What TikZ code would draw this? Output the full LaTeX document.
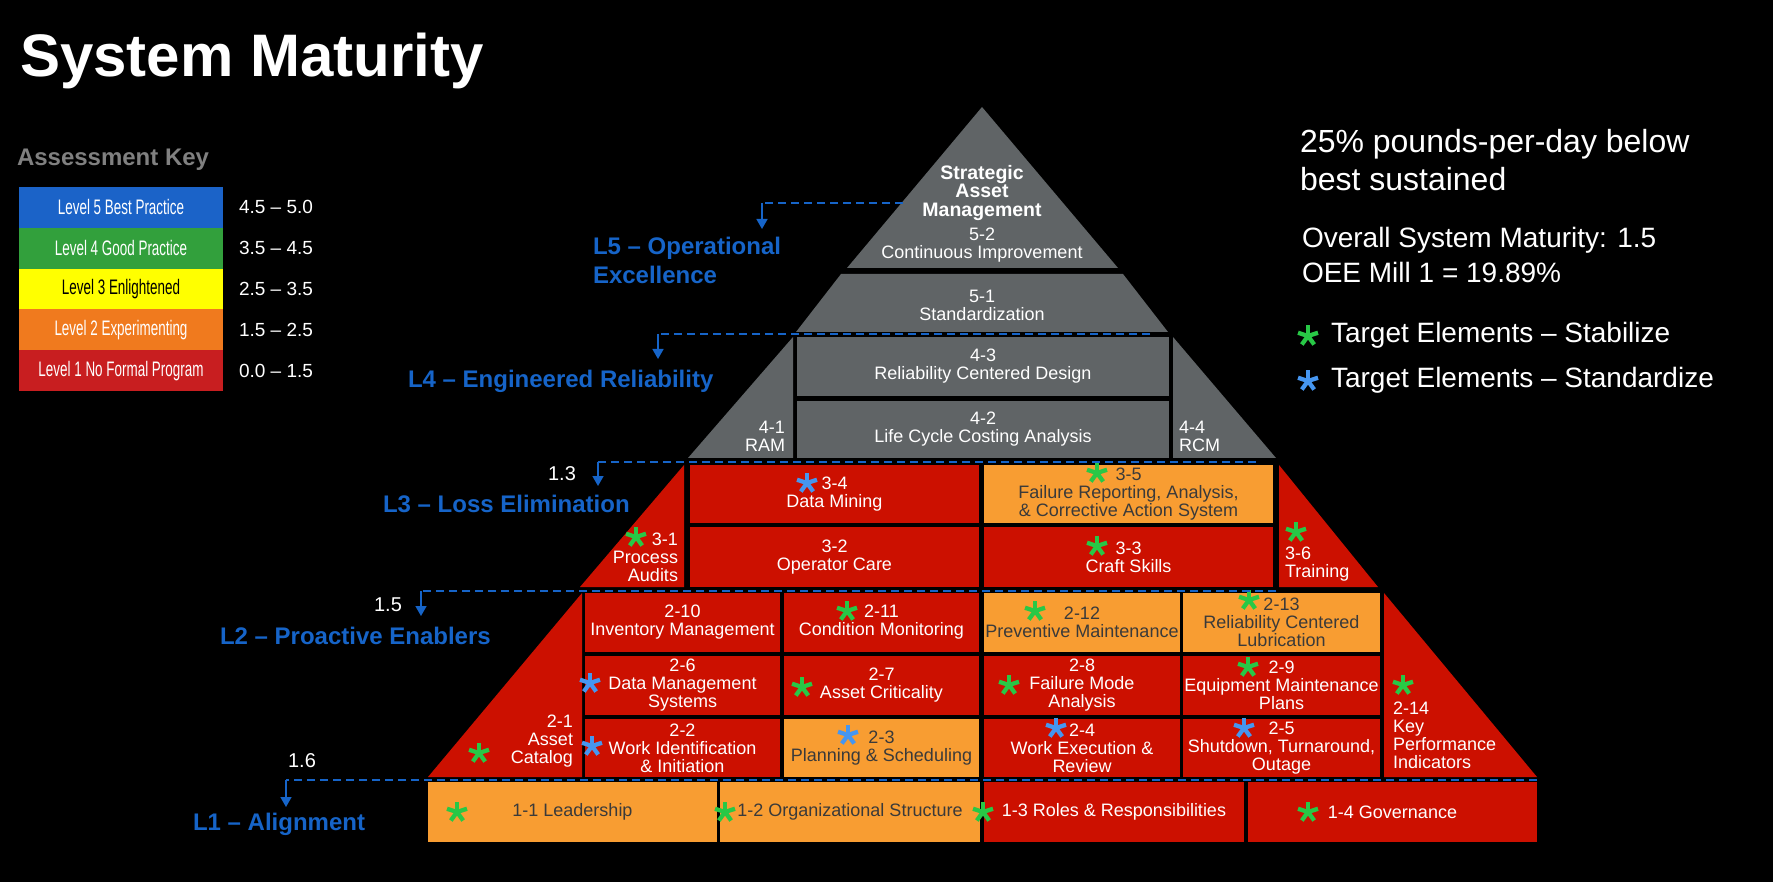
\documentclass[tikz,border=0pt]{standalone}
\usepackage{fontspec}
\setmainfont{Liberation Sans}
\newfontfamily\keyfont[FakeStretch=0.64]{Liberation Sans}
\usetikzlibrary{arrows.meta,positioning}
\definecolor{pygray}{RGB}{96,100,102}
\definecolor{pyred}{RGB}{204,16,0}
\definecolor{pyorange}{RGB}{248,157,50}
\definecolor{darktext}{RGB}{58,58,58}
\definecolor{lvblue}{RGB}{22,100,200}
\definecolor{stargreen}{RGB}{40,200,70}
\definecolor{starblue}{RGB}{70,150,240}
\definecolor{keyfive}{RGB}{27,99,200}
\definecolor{keyfour}{RGB}{50,160,60}
\definecolor{keythree}{RGB}{255,255,0}
\definecolor{keytwo}{RGB}{240,122,30}
\definecolor{keyone}{RGB}{200,30,32}
\definecolor{keygray}{RGB}{128,128,128}
\newcommand{\cellfont}{\fontsize{18}{18}\selectfont}
\tikzset{
  every node/.style={inner sep=0pt, outer sep=0pt, text=white},
  celltext/.style={align=center, font=\cellfont},
  cellbox/.style={celltext, anchor=north west},
  redbox/.style={cellbox, fill=pyred},
  orangebox/.style={cellbox, fill=pyorange, text=darktext},
  graybox/.style={cellbox, fill=pygray},
  lvlabel/.style={anchor=base west, align=left, text=lvblue, font=\fontsize{24}{29}\selectfont\bfseries},
  lvnum/.style={anchor=base, font=\fontsize{20}{20}\selectfont},
  lvline/.style={draw=lvblue, line width=2.4pt, dash pattern=on 8pt off 5pt},
  lvarrow/.style={draw=lvblue, line width=1.6pt, -{Triangle[length=10pt, width=11pt]}},
  keybox/.style={minimum width=204, minimum height=40.8, font=\keyfont\fontsize{21}{21}\selectfont},
  keyval/.style={font=\fontsize{19}{19}\selectfont},
  sidetext/.style={align=left, font=\fontsize{28}{35}\selectfont},
  ast/.pic={\foreach \a in {270,198,342,54,126} \draw[line width=4.3pt] (0,0) -- (\a:10.5);},
  gstar/.style={color=stargreen},
  bstar/.style={color=starblue},
}

\begin{document}
\begin{tikzpicture}[x=1pt, y=-1pt]
    \useasboundingbox (0,0) rectangle (1773,882);
    \fill[black] (0,0) rectangle (1773,882);

    \node[anchor=base west, font=\fontsize{60}{60}\selectfont\bfseries] (title) at (20,77) {System Maturity};

    \node[anchor=base west, text=keygray, font=\fontsize{24}{24}\selectfont\bfseries] (keyhead) at (17,166) {Assessment Key};
    \node[keybox, fill=keyfive, anchor=north west] (k5) at (19,187) {Level 5 Best Practice};
    \node[keybox, fill=keyfour] (k4) [below=0pt of k5] {Level 4 Good Practice};
    \node[keybox, fill=keythree, text=black] (k3) [below=0pt of k4] {Level 3 Enlightened};
    \node[keybox, fill=keytwo] (k2) [below=0pt of k3] {Level 2 Experimenting};
    \node[keybox, fill=keyone] (k1) [below=0pt of k2] {Level 1 No Formal Program};
    \node[keyval] (v5) [right=16pt of k5] {4.5 – 5.0};
    \node[keyval] (v4) [right=16pt of k4] {3.5 – 4.5};
    \node[keyval] (v3) [right=16pt of k3] {2.5 – 3.5};
    \node[keyval] (v2) [right=16pt of k2] {1.5 – 2.5};
    \node[keyval] (v1) [right=16pt of k1] {0.0 – 1.5};

    \node[anchor=north west, align=left, font=\fontsize{32}{38}\selectfont] (note) at (1300,129.6) {25\% pounds-per-day below\\best sustained};
    \node[sidetext, anchor=north west] (overall) at (1302,227.6) {Overall System Maturity: 1.5\\OEE Mill 1 = 19.89\%};
    \pic[gstar] at (1308,336) {ast};
    \node[sidetext, anchor=base west] (stab) at (1331,343) {Target Elements – Stabilize};
    \pic[bstar] at (1308,381) {ast};
    \node[sidetext, anchor=base west] (stand) at (1331,388) {Target Elements – Standardize};

    \fill[pygray] (982,107) -- (1118,268) -- (847,268) -- cycle;
    \node[celltext, font=\fontsize{19.5}{18.5}\selectfont\bfseries] (sam) at (982,193) {Strategic\\Asset\\Management};
    \node[celltext] (c52) at (982,245) {5-2\\Continuous Improvement};
    \fill[pygray] (841,274) -- (1123,274) -- (1168,332) -- (796,332) -- cycle;
    \node[celltext] (c51) at (982,305) {5-1\\Standardization};

    \fill[pygray] (793,337) -- (793,458) -- (688,458) -- cycle;
    \node[celltext, align=right, anchor=east] (c41) at (785,436) {4-1\\RAM};
    \node[graybox, minimum width=372, minimum height=59] (c43) at (797,337) {4-3\\Reliability Centered Design};
    \node[graybox, minimum width=372, minimum height=57] (c42) at (797,401) {4-2\\Life Cycle Costing Analysis};
    \fill[pygray] (1173,337) -- (1173,458) -- (1276,458) -- cycle;
    \node[celltext, align=left, anchor=west] (c44) at (1179,436) {4-4\\RCM};

    \fill[pyred] (684,465) -- (684,587) -- (580,587) -- cycle;
    \node[celltext, align=right, anchor=east] (c31) at (678,557) {3-1\\Process\\Audits};
    \pic[gstar] at (636,537) {ast};
    \node[redbox, minimum width=289, minimum height=58] (c34) at (690,465) {3-4\\Data Mining};
    \pic[bstar] at (807,483) {ast};
    \node[redbox, minimum width=289, minimum height=60] (c32) at (690,527) {3-2\\Operator Care};
    \node[orangebox, minimum width=289, minimum height=58] (c35) at (984,465) {3-5\\Failure Reporting, Analysis,\\\& Corrective Action System};
    \pic[gstar] at (1097,473) {ast};
    \node[redbox, minimum width=289, minimum height=60] (c33) at (984,527) {3-3\\Craft Skills};
    \pic[gstar] at (1097,546) {ast};
    \fill[pyred] (1279,465) -- (1279,587) -- (1378,587) -- cycle;
    \node[celltext, align=left, anchor=west] (c36) at (1285,564) {3-6\\Training};
    \pic[gstar] at (1296,532) {ast};

    \fill[pyred] (582,593) -- (582,777) -- (428,777) -- cycle;
    \node[celltext, align=right, anchor=east] (c21) at (573,741) {2-1\\Asset\\Catalog};
    \pic[gstar] at (479,753) {ast};
    \node[redbox, minimum width=195, minimum height=59] (c210) at (585,593) {2-10\\Inventory Management};
    \node[redbox, minimum width=195, minimum height=59] (c211) at (784,593) {2-11\\Condition Monitoring};
    \pic[gstar] at (847,611) {ast};
    \node[orangebox, minimum width=196, minimum height=59] (c212) at (984,593) {2-12\\Preventive Maintenance};
    \pic[gstar] at (1035,611) {ast};
    \node[orangebox, minimum width=197, minimum height=59] (c213) at (1183,593) {2-13\\Reliability Centered\\Lubrication};
    \pic[gstar] at (1249,600) {ast};
    \node[redbox, minimum width=195, minimum height=59] (c26) at (585,656) {2-6\\Data Management\\Systems};
    \pic[bstar] at (590,683) {ast};
    \node[redbox, minimum width=195, minimum height=59] (c27) at (784,656) {2-7\\Asset Criticality};
    \pic[gstar] at (802,687) {ast};
    \node[redbox, minimum width=196, minimum height=59] (c28) at (984,656) {2-8\\Failure Mode\\Analysis};
    \pic[gstar] at (1009,685) {ast};
    \node[redbox, minimum width=197, minimum height=59] (c29) at (1183,656) {2-9\\Equipment Maintenance\\Plans};
    \pic[gstar] at (1248,667) {ast};
    \node[redbox, minimum width=195, minimum height=58] (c22) at (585,719) {2-2\\Work Identification\\\& Initiation};
    \pic[bstar] at (592,746) {ast};
    \node[orangebox, minimum width=195, minimum height=58] (c23) at (784,719) {2-3\\Planning \& Scheduling};
    \pic[bstar] at (848,735) {ast};
    \node[redbox, minimum width=196, minimum height=58] (c24) at (984,719) {2-4\\Work Execution \&\\Review};
    \pic[bstar] at (1056,728) {ast};
    \node[redbox, minimum width=197, minimum height=58] (c25) at (1183,719) {2-5\\Shutdown, Turnaround,\\Outage};
    \pic[bstar] at (1244,728) {ast};
    \fill[pyred] (1384,593) -- (1384,777) -- (1537,777) -- cycle;
    \node[celltext, align=left, anchor=west] (c214) at (1393,735) {2-14\\Key\\Performance\\Indicators};
    \pic[gstar] at (1403,685) {ast};

    \node[orangebox, minimum width=289, minimum height=60] (c11) at (428,782) {1-1 Leadership};
    \pic[gstar] at (457,812) {ast};
    \node[orangebox, minimum width=260, minimum height=60] (c12) at (720,782) {1-2 Organizational Structure};
    \pic[gstar] at (725,812) {ast};
    \node[redbox, minimum width=260, minimum height=60] (c13) at (984,782) {1-3 Roles \& Responsibilities};
    \pic[gstar] at (983,812) {ast};
    \node[redbox, minimum width=289, minimum height=60] (c14) at (1248,782) {1-4 Governance};
    \pic[gstar] at (1308,812) {ast};

    \coordinate (l5end) at (903,203);
    \coordinate (l5turn) at (762,203);
    \coordinate (l5tip) at (762,229);
    \coordinate (l4end) at (1150,334);
    \coordinate (l4turn) at (658,334);
    \coordinate (l4tip) at (658,359);
    \coordinate (l3end) at (1256,462);
    \coordinate (l3turn) at (598,462);
    \coordinate (l3tip) at (598,486);
    \coordinate (l2end) at (1276,591);
    \coordinate (l2turn) at (421,591);
    \coordinate (l2tip) at (421,616);
    \coordinate (l1end) at (1537,780);
    \coordinate (l1turn) at (286,780);
    \coordinate (l1tip) at (286,807);
    \draw[lvline] (l5end) -- (l5turn);
    \draw[lvarrow] (l5turn) -- (l5tip);
    \draw[lvline] (l4end) -- (l4turn);
    \draw[lvarrow] (l4turn) -- (l4tip);
    \draw[lvline] (l3end) -- (l3turn);
    \draw[lvarrow] (l3turn) -- (l3tip);
    \draw[lvline] (l2end) -- (l2turn);
    \draw[lvarrow] (l2turn) -- (l2tip);
    \draw[lvline] (l1end) -- (l1turn);
    \draw[lvarrow] (l1turn) -- (l1tip);

    \node[lvlabel, anchor=west] (lv5) at (593,260.5) {L5 – Operational\\Excellence};
    \node[lvlabel] (lv4) at (408,387.6) {L4 – Engineered Reliability};
    \node[lvlabel] (lv3) at (383,512.6) {L3 – Loss Elimination};
    \node[lvlabel] (lv2) at (220,644.6) {L2 – Proactive Enablers};
    \node[lvlabel] (lv1) at (193,830.6) {L1 – Alignment};
    \node[lvnum] (n3) at (562,480) {1.3};
    \node[lvnum] (n2) at (388,611) {1.5};
    \node[lvnum] (n1) at (302,767) {1.6};
\end{tikzpicture}
\end{document}
